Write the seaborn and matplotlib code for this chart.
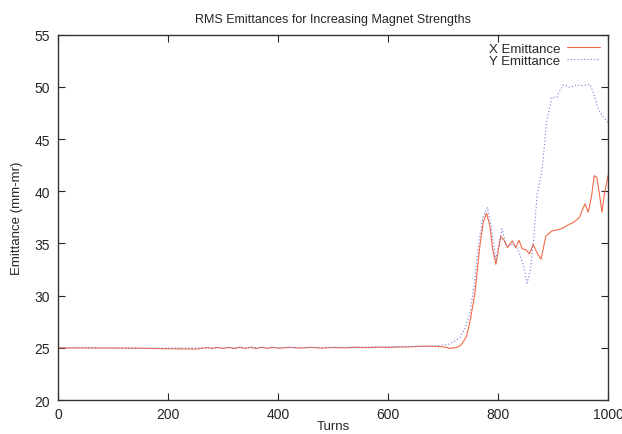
import numpy as np
import pandas as pd
import seaborn as sns
import matplotlib.pyplot as plt

## turns and emittances
x_turns = [0, 50, 100, 150, 200, 230, 250, 270, 280, 290, 300, 310, 320, 330, 340,
           350, 360, 370, 380, 390, 400, 420, 440, 460, 480, 500, 520, 540, 560,
           580, 600, 620, 640, 660, 680, 700, 712, 725, 731, 737, 743, 750, 758,
           767, 773, 779, 785, 790, 796, 805, 811, 817, 826, 832, 838, 844, 851,
           857, 864, 871, 878, 887, 898, 908, 919, 928, 937, 948, 958, 964, 970,
           975, 980, 985, 989, 993, 1000]
x_emit = [25.0, 25.0, 24.98, 24.96, 24.92, 24.9, 24.88, 25.02, 24.95, 25.05, 24.94,
          25.06, 24.93, 25.07, 24.94, 25.07, 24.93, 25.07, 24.95, 25.06, 24.96,
          25.06, 24.97, 25.05, 24.97, 25.04, 25.0, 25.05, 25.02, 25.06, 25.05,
          25.08, 25.1, 25.15, 25.15, 25.1, 24.95, 25.05, 25.2, 25.6, 26.15, 27.8,
          30.3, 34.8, 37.0, 37.9, 36.7, 34.5, 33.0, 35.7, 35.3, 34.6, 35.25, 34.6,
          35.3, 34.5, 34.4, 34.0, 34.9, 34.1, 33.5, 35.7, 36.2, 36.3, 36.5, 36.8,
          37.0, 37.5, 38.8, 38.0, 39.5, 41.5, 41.3, 39.5, 38.0, 39.6, 41.5]

y_turns = [0, 100, 200, 300, 400, 500, 600, 650, 690, 710, 720, 731, 740, 749, 757,
           764, 773, 781, 787, 796, 807, 815, 828, 836, 846, 853, 859, 864, 871,
           881, 888, 898, 907, 911, 919, 931, 943, 955, 967, 973, 982, 990, 1000]
y_emit = [25.0, 25.0, 24.98, 25.0, 25.02, 25.05, 25.1, 25.15, 25.2, 25.35, 25.6,
          26.0, 26.9, 28.4, 31.2, 34.8, 37.6, 38.45, 36.7, 33.5, 36.4, 34.8, 34.9,
          34.5, 32.9, 31.2, 32.5, 35.0, 39.6, 42.4, 46.6, 49.0, 49.0, 49.5, 50.2,
          49.95, 50.2, 50.1, 50.25, 49.5, 47.9, 47.2, 46.6]

df = pd.concat([
    pd.DataFrame({'Turns': x_turns, 'Emittance': x_emit, 'series': 'X Emittance'}),
    pd.DataFrame({'Turns': y_turns, 'Emittance': y_emit, 'series': 'Y Emittance'}),
])

sns.set_style('ticks')
plt.rcParams['font.family'] = ['Liberation Sans', 'DejaVu Sans']

fig = plt.figure(figsize=(6.22, 4.35), dpi=100)
ax = fig.add_axes([0.0937, 0.078, 0.8838, 0.840])

ax = sns.lineplot(data=df, x='Turns', y='Emittance', hue='series', style='series',
                  palette={'X Emittance': '#f26a48', 'Y Emittance': '#7878d4'},
                  dashes={'X Emittance': '', 'Y Emittance': (1, 2)},
                  linewidth=0.8, ax=ax)

ax.set_xlim(0, 1000)
ax.set_ylim(20, 55)
ax.set_xticks(range(0, 1001, 200))
ax.set_yticks(range(20, 56, 5))
ax.tick_params(direction='in', top=True, right=True, length=5, width=0.8,
               labelsize=10, pad=6)
ax.tick_params(axis='x', pad=5)
for s in ax.spines.values():
    s.set_linewidth(1.0)
    s.set_color('#333333')

ax.set_title('RMS Emittances for Increasing Magnet Strengths', fontsize=9, pad=9)
ax.set_xlabel('Turns', fontsize=9.5, labelpad=-1)
ax.set_ylabel('Emittance (mm-mr)', fontsize=9.5, labelpad=8)

leg = ax.legend(loc='upper right', frameon=False, markerfirst=False, fontsize=9.5,
                handlelength=2.5, handletextpad=0.5, labelspacing=0.0,
                borderaxespad=0.2, borderpad=0.4)

fig.savefig('out.png', dpi=100)
